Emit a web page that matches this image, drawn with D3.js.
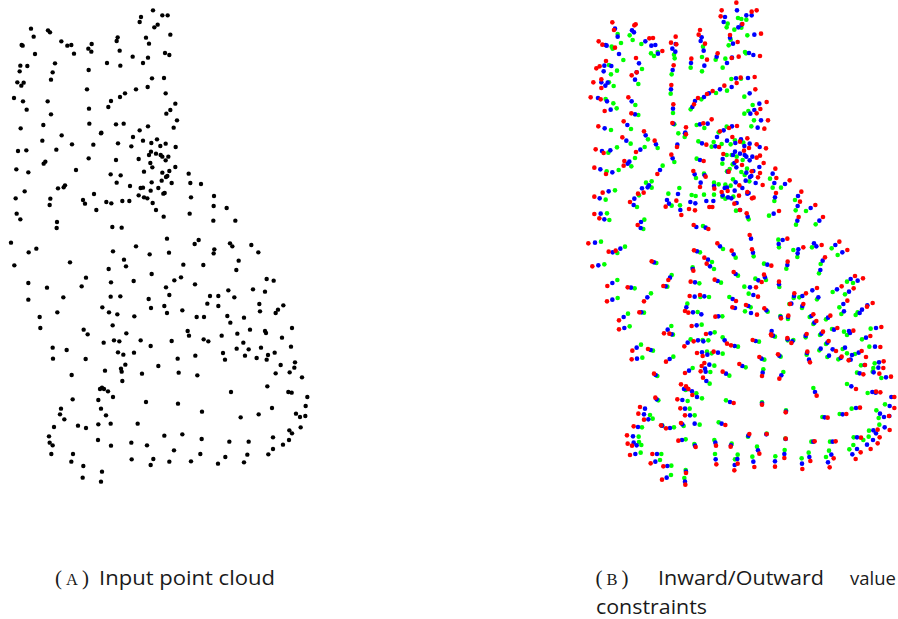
<!DOCTYPE html>
<html>
<head>
<meta charset="utf-8">
<script src="https://cdn.jsdelivr.net/npm/d3@7"></script>
<style>
  html, body { margin: 0; background: #fff; overflow: hidden; }
  .sans { font-family: "Open Sans", "Liberation Sans", sans-serif; fill: #1a1a1a; }
  .serif { font-family: "Liberation Serif", serif; fill: #1a1a1a; }
</style>
</head>
<body>
<svg id="fig" width="898" height="619"></svg>
<script>
// input cloud (3x units)
const cloud = [
[459,31],[423,51],[419,66],[487,46],[503,46],[473,74],[463,82],[511,104],[93,86],[144,91],[150,97],[101,110],[184,124],[202,137],[214,135],[275,132],[265,146],[274,155],[353,112],[350,123],[438,113],[447,131],[359,152],[398,170],[444,173],[429,189],[495,159],[508,165],[65,135],[68,137],[105,162],[222,161],[165,190],[61,197],[82,198],[59,214],[158,217],[266,210],[321,189],[361,197],[153,239],[52,247],[71,248],[64,257],[261,268],[456,235],[492,234],[443,261],[408,268],[375,280],[360,291],[333,303],[325,321],[497,280],[42,294],[69,304],[143,304],[80,329],[267,326],[153,343],[526,311],[511,330],[499,341],[531,361],[521,383],[62,385],[130,375],[268,371],[348,373],[371,371],[444,379],[419,391],[304,398],[303,400],[185,406],[127,422],[399,411],[429,422],[471,418],[454,429],[497,431],[481,438],[527,441],[216,433],[280,434],[354,430],[394,439],[54,453],[79,451],[169,449],[453,455],[447,465],[468,461],[482,465],[487,470],[505,470],[497,481],[266,475],[348,480],[416,477],[136,485],[131,491],[451,489],[457,502],[526,501],[508,513],[49,508],[85,517],[228,510],[432,515],[487,518],[566,521],[332,523],[362,526],[502,528],[498,531],[485,542],[350,548],[455,547],[515,549],[571,549],[603,552],[390,558],[195,556],[191,562],[174,565],[422,564],[429,563],[475,564],[452,572],[74,574],[282,582],[494,579],[490,581],[416,586],[432,592],[442,595],[573,592],[642,588],[47,595],[151,596],[249,600],[255,611],[319,606],[334,610],[367,603],[388,603],[458,609],[149,615],[641,618],[680,624],[289,630],[468,630],[50,641],[569,641],[491,650],[61,658],[171,666],[640,662],[706,662],[170,684],[337,681],[365,683],[501,716],
[33,728],[86,757],[109,746],[43,796],[339,754],[408,739],[449,763],[507,758],[584,732],[596,720],[643,748],[641,760],[690,730],[697,739],[754,735],[775,757],[210,787],[372,779],[378,799],[326,807],[550,794],[610,795],[716,782],[709,810],[258,833],[85,849],[333,847],[401,843],[455,822],[543,832],[523,841],[245,859],[141,863],[498,862],[585,853],[800,837],[821,842],[190,892],[85,899],[332,890],[361,889],[446,897],[508,885],[630,888],[655,888],[685,871],[703,892],[759,868],[795,875],[307,922],[327,937],[352,943],[403,949],[172,937],[453,924],[493,918],[501,939],[547,931],[622,911],[655,918],[778,912],[780,934],[850,916],[834,929],[827,939],[119,951],[590,951],[612,951],[682,948],[732,953],[691,968],[121,984],[338,976],[251,989],[263,1003],[379,1000],[563,993],[567,1007],[750,989],[795,993],[798,999],[876,984],[712,1001],[665,1007],[846,1013],[342,1021],[358,1024],[311,1028],[422,1021],[515,1023],[611,1018],[625,1024],[730,1028],[158,1043],[200,1050],[452,1038],[710,1046],[746,1048],[783,1043],[873,1040],[354,1057],[370,1064],[402,1058],[669,1059],[735,1067],[824,1058],[804,1065],[159,1076],[257,1077],[533,1076],[586,1067],[675,1079],[770,1074],[800,1079],[376,1094],[475,1098],[885,1087],[842,1095],[883,1103],[363,1106],[365,1115],[315,1112],[426,1121],[536,1118],[592,1126],[827,1120],[869,1117],[215,1125],[906,1132],[367,1143],[802,1159],[300,1167],[306,1163],[312,1167],[324,1174],[693,1176],[865,1176],[875,1178],[339,1191],[922,1191],[218,1198],[295,1200],[438,1206],[534,1211],[917,1218],[183,1226],[303,1226],[816,1224],[606,1235],[180,1243],[318,1246],[888,1241],[776,1243],[722,1252],[900,1251],[916,1248],[193,1258],[295,1273],[332,1271],[413,1271],[234,1277],[258,1284],[162,1281],[902,1282],[868,1291],[876,1300],[147,1309],[493,1307],[547,1303],[605,1317],[819,1312],[294,1320],[688,1325],[746,1325],[867,1320],[149,1328],[158,1336],[333,1337],[394,1328],[441,1336],[849,1334],[522,1351],[819,1347],[154,1362],[219,1362],[601,1362],[742,1364],[805,1363],[395,1378],[460,1377],[676,1371],[214,1385],[508,1385],[573,1384],[732,1387],[452,1395],[654,1391],[250,1398],[306,1415],[248,1433],[303,1445]
];

// outward constraints, right panel
const outward = [
[469,8],[425,31],[515,35],[530,31],[422,49],[97,67],[167,73],[163,76],[102,90],[487,72],[360,90],[356,104],[450,105],[543,101],[287,110],[208,115],[219,114],[56,124],[67,134],[273,128],[289,133],[375,131],[473,126],[247,153],[105,143],[413,160],[381,179],[476,170],[455,174],[540,168],[168,174],[334,176],[78,183],[59,199],[49,205],[281,196],[170,217],[155,226],[64,238],[40,247],[64,264],[482,233],[524,231],[470,249],[433,257],[398,273],[381,282],[354,294],[526,268],[274,255],[32,292],[62,298],[145,292],[560,306],[342,313],[280,313],[74,333],[541,327],[154,340],[530,340],[395,358],[564,361],[131,364],[55,379],[370,370],[277,369],[471,378],[553,386],[447,384],[192,394],[318,382],[318,403],[127,412],[224,422],[420,394],[457,411],[502,415],[480,425],[291,441],[379,434],[417,441],[47,448],[71,459],[558,445],[168,456],[530,433],[507,444],[492,452],[430,462],[274,464],[540,467],[530,473],[470,483],[371,483],[133,483],[131,497],[43,503],[551,489],[486,495],[586,506],[232,522],[78,522],[340,513],[446,515],[515,514],[540,519],[377,530],[589,534],[534,532],[629,541],[548,555],[478,556],[360,561],[403,566],[68,578],[191,578],[174,581],[664,575],[443,573],[425,576],[502,576],[588,579],[43,590],[521,593],[516,595],[477,587],[150,606],[660,605],[289,602],[463,611],[257,620],[706,615],[327,627],[345,631],[388,621],[397,621],[480,630],[597,633],[43,642],[500,640],[304,645],[58,655],[656,651],[729,651],[173,675],[341,675],[385,687],[509,705],[622,716],
[25,730],[86,755],[107,752],[37,799],[342,751],[412,730],[455,752],[516,748],[670,742],[725,735],[778,725],[802,750],[735,772],[215,784],[373,773],[380,791],[340,812],[623,785],[574,797],[461,816],[552,824],[597,845],[265,840],[82,858],[143,862],[250,858],[332,845],[404,839],[545,846],[528,862],[825,828],[849,835],[711,864],[192,904],[81,904],[329,888],[360,885],[468,903],[534,890],[643,880],[678,880],[785,859],[821,865],[802,902],[878,909],[670,912],[315,933],[325,938],[406,950],[178,937],[457,922],[498,915],[531,944],[553,925],[630,912],[861,920],[117,961],[117,988],[603,955],[625,947],[700,943],[751,947],[709,963],[335,978],[252,1000],[268,1001],[378,1002],[573,1003],[574,1006],[729,995],[772,984],[820,992],[904,981],[622,1014],[680,1002],[871,1008],[313,1039],[341,1024],[441,1031],[453,1036],[518,1020],[634,1029],[746,1023],[157,1052],[204,1047],[901,1041],[768,1053],[845,1053],[351,1059],[368,1068],[401,1055],[682,1055],[155,1078],[258,1085],[538,1071],[594,1063],[785,1070],[690,1087],[858,1071],[806,1081],[365,1098],[373,1089],[478,1092],[911,1084],[315,1119],[362,1114],[428,1115],[546,1128],[598,1136],[222,1121],[855,1095],[910,1104],[850,1123],[898,1121],[933,1130],[369,1133],[303,1153],[828,1167],[318,1159],[325,1167],[337,1185],[710,1187],[901,1177],[888,1175],[226,1193],[292,1198],[461,1209],[546,1214],[943,1191],[943,1224],[180,1221],[301,1225],[840,1223],[617,1237],[175,1241],[315,1246],[927,1248],[799,1242],[743,1253],[192,1259],[303,1269],[436,1275],[243,1276],[258,1285],[161,1279],[893,1289],[929,1290],[141,1306],[508,1302],[560,1302],[617,1316],[843,1313],[295,1322],[704,1324],[767,1324],[899,1312],[143,1331],[156,1337],[347,1341],[408,1337],[452,1340],[893,1330],[538,1361],[842,1357],[150,1365],[217,1362],[613,1374],[761,1375],[872,1347],[409,1393],[691,1383],[212,1390],[523,1401],[585,1400],[749,1402],[473,1391],[827,1377],[463,1411],[667,1407],[250,1399],[318,1419],[246,1439],[316,1454]
];

// inward constraints, right panel
const inward = [
[474,54],[484,57],[499,59],[443,71],[440,82],[463,89],[484,83],[113,102],[149,106],[158,120],[123,129],[95,140],[98,146],[184,132],[452,119],[502,106],[446,136],[369,140],[495,156],[498,160],[213,160],[222,168],[233,156],[282,164],[284,175],[366,171],[407,179],[436,176],[130,180],[87,195],[332,203],[428,203],[186,207],[111,212],[93,223],[275,223],[366,214],[87,247],[175,252],[454,237],[483,236],[101,258],[272,281],[408,279],[441,272],[493,290],[364,298],[77,297],[166,315],[100,310],[110,325],[332,328],[518,315],[505,333],[493,341],[279,339],[175,345],[522,361],[350,375],[283,373],[373,384],[514,379],[153,387],[93,390],[440,380],[416,397],[204,418],[295,400],[314,411],[152,431],[465,421],[355,424],[401,426],[425,432],[452,433],[395,440],[490,428],[111,442],[194,441],[233,444],[85,458],[440,465],[165,474],[455,465],[350,476],[283,486],[470,470],[488,480],[427,491],[154,499],[458,493],[248,497],[116,510],[80,514],[501,506],[484,516],[372,521],[449,507],[441,514],[348,534],[570,536],[459,538],[494,525],[508,544],[402,548],[198,548],[215,544],[416,553],[436,554],[452,557],[298,564],[215,563],[603,563],[578,563],[105,571],[265,581],[335,585],[347,588],[372,584],[402,584],[427,590],[177,586],[460,590],[645,600],[77,599],[583,603],[436,596],[171,621],[275,617],[300,616],[647,631],[678,633],[468,632],[81,640],[567,647],[88,660],[506,658],[193,659],[648,674],[707,673],[190,687],[369,678],[595,719],
[63,725],[135,740],[112,759],[73,793],[360,757],[429,747],[467,773],[521,769],[597,742],[640,750],[652,771],[696,742],[755,745],[773,765],[229,789],[396,786],[402,807],[338,802],[552,791],[619,806],[722,792],[717,820],[275,825],[112,840],[358,850],[423,848],[474,827],[526,836],[558,840],[493,860],[598,861],[801,845],[819,849],[262,860],[164,865],[213,880],[113,894],[387,891],[361,891],[448,891],[506,881],[641,894],[658,892],[711,898],[758,876],[795,883],[322,911],[353,936],[192,938],[427,949],[512,922],[495,934],[563,935],[628,912],[666,924],[778,922],[784,942],[827,945],[833,937],[144,941],[149,979],[601,948],[624,957],[689,951],[738,958],[700,972],[365,974],[274,978],[279,1004],[404,997],[585,1010],[332,1018],[385,1021],[368,1020],[428,1012],[537,1025],[623,1021],[640,1020],[677,1012],[720,1005],[756,987],[792,995],[801,1005],[846,1018],[872,986],[868,1040],[183,1034],[219,1052],[474,1040],[718,1051],[738,1032],[788,1047],[381,1055],[395,1060],[428,1061],[553,1079],[602,1070],[680,1064],[742,1071],[801,1060],[825,1062],[280,1070],[187,1073],[775,1078],[807,1080],[403,1097],[497,1102],[338,1104],[550,1108],[610,1116],[843,1096],[880,1104],[884,1090],[391,1116],[448,1127],[232,1128],[831,1118],[878,1115],[904,1134],[389,1151],[801,1152],[317,1170],[349,1180],[366,1195],[700,1164],[863,1179],[235,1201],[323,1203],[438,1201],[546,1207],[915,1213],[329,1226],[815,1226],[889,1231],[210,1245],[344,1246],[618,1231],[779,1242],[727,1251],[896,1254],[218,1256],[359,1274],[247,1277],[282,1282],[186,1282],[416,1267],[311,1278],[898,1274],[867,1292],[821,1312],[176,1310],[504,1310],[403,1320],[317,1318],[560,1301],[850,1320],[616,1316],[694,1325],[750,1325],[177,1326],[184,1335],[343,1332],[455,1331],[866,1310],[820,1335],[531,1340],[808,1348],[244,1362],[182,1358],[405,1362],[473,1364],[614,1350],[747,1352],[686,1358],[240,1380],[465,1378],[517,1370],[586,1369],[665,1375],[738,1371],[274,1397],[317,1410],[273,1425],[313,1434]
];

const captionA = { tag: 'A', text: 'Input point cloud' };
const captionB = { tag: 'B', words: ['Inward/Outward', 'value'], last: 'constraints' };

const svg = d3.select('#fig');

const y = d3.scaleLinear().domain([0, 1500]).range([0, 500]);
const xLeft = d3.scaleLinear().domain([0, 960]).range([0, 320]);
const xCloudRight = d3.scaleLinear().domain([0, 960]).range([584, 904]);
const xRight = d3.scaleLinear().domain([0, 954]).range([580, 898]);

const dots = (name, data, xs, color, r) => svg.append('g')
  .attr('class', name)
  .selectAll('circle')
  .data(data)
  .enter()
  .append('circle')
  .attr('cx', d => xs(d[0]))
  .attr('cy', d => y(d[1]))
  .attr('r', r)
  .attr('fill', color);

dots('input', cloud, xLeft, '#000', 2.2);
// green under blue under red, same as the picture
dots('inward', inward, xRight, '#00ff00', 2.3);
dots('onsurface', cloud, xCloudRight, '#0000ff', 2.3);
dots('outward', outward, xRight, '#ff0000', 2.3);

// captions
const label = (s, px, py, len) => svg.append('text')
  .attr('class', 'sans')
  .attr('x', px).attr('y', py)
  .attr('font-size', 20.5)
  .attr('textLength', len)
  .attr('lengthAdjust', 'spacingAndGlyphs')
  .text(s);

// small caps tag: big parens, small letter
const tag = (s, px, py) => {
  const t = svg.append('text').attr('class', 'serif')
    .attr('x', px).attr('y', py).attr('font-size', 21);
  t.append('tspan').text('(');
  t.append('tspan').attr('dx', 4).attr('font-size', 16.5).text(s);
  t.append('tspan').attr('dx', 4).text(')');
};

tag(captionA.tag, 55, 585);
label(captionA.text, 99, 585, 176);
tag(captionB.tag, 595.5, 585);
label(captionB.words[0], 658, 585, 166);
// shrunk a little so it stays inside the page
svg.append('text').attr('class', 'sans')
  .attr('x', 850).attr('y', 585).attr('font-size', 18.5)
  .text(captionB.words[1]);
label(captionB.last, 596, 614, 111);
</script>
</body>
</html>
